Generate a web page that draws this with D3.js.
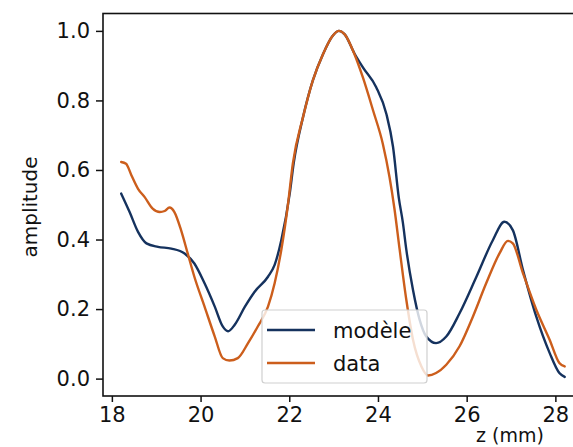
<!DOCTYPE html>
<html><head><meta charset="utf-8">
<script src="https://cdn.jsdelivr.net/npm/d3@7"></script>
<style>html,body{margin:0;padding:0;background:#fff;overflow:hidden}</style>
</head><body>
<svg id="c" width="573" height="447"></svg>
<script>
const zModel = [18.21,18.40,18.59,18.78,19.04,19.34,19.64,19.86,20.09,20.32,20.50,20.62,20.77,21.00,21.22,21.52,21.67,21.82,22.01,22.10,22.31,22.53,22.76,22.98,23.12,23.25,23.47,23.66,23.96,24.19,24.34,24.47,24.56,24.64,24.79,24.94,25.09,25.31,25.54,25.84,26.22,26.59,26.85,27.04,27.27,27.57,27.87,28.09,28.21];
const ampModel = [0.532,0.479,0.422,0.389,0.379,0.374,0.360,0.331,0.274,0.207,0.150,0.136,0.155,0.207,0.250,0.293,0.327,0.398,0.532,0.620,0.752,0.857,0.933,0.986,1.000,0.990,0.935,0.895,0.838,0.761,0.666,0.520,0.450,0.370,0.255,0.169,0.121,0.102,0.121,0.188,0.293,0.398,0.451,0.427,0.312,0.178,0.074,0.016,0.005];
const zData = [18.21,18.32,18.44,18.59,18.74,18.92,19.08,19.19,19.30,19.41,19.56,19.71,19.86,20.09,20.32,20.50,20.65,20.84,21.07,21.29,21.52,21.67,21.82,21.97,22.08,22.31,22.53,22.76,22.98,23.12,23.25,23.47,23.66,23.89,24.11,24.26,24.37,24.49,24.64,24.79,24.98,25.13,25.31,25.54,25.84,26.14,26.44,26.74,26.93,27.04,27.27,27.57,27.87,28.09,28.21];
const ampData = [0.623,0.618,0.585,0.546,0.522,0.489,0.479,0.482,0.492,0.479,0.427,0.360,0.293,0.207,0.121,0.059,0.052,0.059,0.102,0.150,0.207,0.274,0.370,0.500,0.618,0.752,0.857,0.933,0.986,1.000,0.990,0.933,0.866,0.771,0.675,0.580,0.490,0.370,0.226,0.112,0.035,0.009,0.016,0.040,0.093,0.178,0.274,0.360,0.396,0.389,0.303,0.198,0.112,0.045,0.035];
const xTicks = [18,20,22,24,26,28];
const yTicks = [0.0,0.2,0.4,0.6,0.8,1.0];
const seriesNames = ["modèle","data"];
const colors = ["#15325e","#cc5e1c"];
const xLabel = "z (mm)";
const yLabel = "amplitude";

const svg = d3.select("#c");
const FONT = "'DejaVu Sans', sans-serif";
const L = 103, T = 13.5, B = 396;
const x = d3.scaleLinear().domain([17.8, 28.7]).range([L, L + 10.9*44.35]);
const y = d3.scaleLinear().domain([-0.05, 1.05]).range([B, T]);

const line = d3.line().x(d => x(d[0])).y(d => y(d[1])).curve(d3.curveMonotoneX);
const sets = [d3.zip(zModel, ampModel), d3.zip(zData, ampData)];

svg.append("g").selectAll("path").data(sets).join("path")
  .attr("d", line).attr("fill","none")
  .attr("stroke",(d,i)=>colors[i]).attr("stroke-width",2.4)
  .attr("stroke-linejoin","round").attr("stroke-linecap","round");

const R = x.range()[1];
svg.append("rect").attr("x",L).attr("y",T).attr("width",R-L).attr("height",B-T)
  .attr("fill","none").attr("stroke","#111").attr("stroke-width",1.6);

const xAxis = svg.append("g").attr("transform",`translate(0,${B})`)
  .call(d3.axisBottom(x).tickValues(xTicks).tickFormat(d3.format("d")).tickSize(6).tickPadding(5));
const yAxis = svg.append("g").attr("transform",`translate(${L},0)`)
  .call(d3.axisLeft(y).tickValues(yTicks).tickFormat(d3.format(".1f")).tickSize(7).tickPadding(6));
[xAxis,yAxis].forEach(g=>{
  g.select(".domain").remove();
  g.selectAll("line").attr("stroke","#111").attr("stroke-width",1.5);
  g.selectAll("text").attr("font-family",FONT).attr("font-size",21).attr("fill","#111");
});

svg.append("text").attr("x",510).attr("y",442).attr("text-anchor","middle")
  .attr("font-family",FONT).attr("font-size",19).attr("fill","#111").text(xLabel);
svg.append("text").attr("transform","translate(37,207) rotate(-90)").attr("text-anchor","middle")
  .attr("font-family",FONT).attr("font-size",20).attr("fill","#111").text(yLabel);

const lg = svg.append("g");
lg.append("rect").attr("x",262).attr("y",310).attr("width",165).attr("height",73).attr("rx",3)
  .attr("fill","#fff").attr("fill-opacity",0.8).attr("stroke","#d0d0d0").attr("stroke-width",1.2);
const ly = [330, 363];
seriesNames.forEach((n,i)=>{
  lg.append("line").attr("x1",267).attr("x2",315).attr("y1",ly[i]).attr("y2",ly[i])
    .attr("stroke",colors[i]).attr("stroke-width",2.4);
  lg.append("text").attr("x",333).attr("y",ly[i]+7.5)
    .attr("font-family",FONT).attr("font-size",21).attr("fill","#111").text(n);
});
</script>
</body></html>
